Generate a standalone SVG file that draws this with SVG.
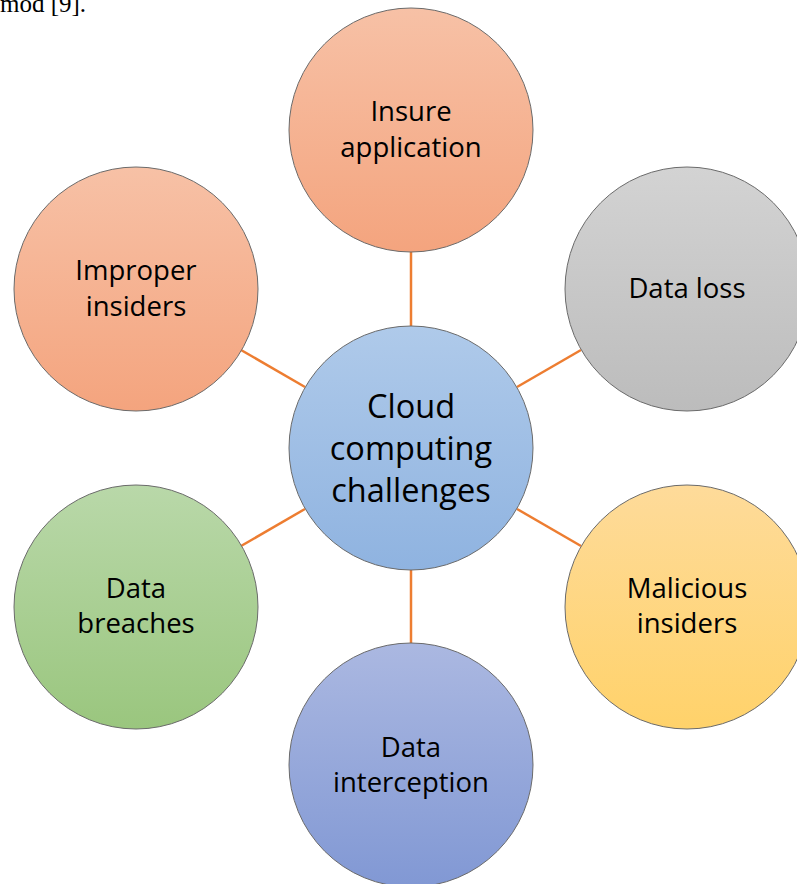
<svg xmlns="http://www.w3.org/2000/svg" width="797" height="884" viewBox="0 0 797 884">
  <defs>
    <linearGradient id="gSalmon" x1="0" y1="0" x2="0" y2="1">
      <stop offset="0" stop-color="#f7c1a6"/>
      <stop offset="1" stop-color="#f4a47e"/>
    </linearGradient>
    <linearGradient id="gGrey" x1="0" y1="0" x2="0" y2="1">
      <stop offset="0" stop-color="#d3d3d3"/>
      <stop offset="1" stop-color="#bcbcbc"/>
    </linearGradient>
    <linearGradient id="gBlue" x1="0" y1="0" x2="0" y2="1">
      <stop offset="0" stop-color="#afcaea"/>
      <stop offset="1" stop-color="#8fb3e0"/>
    </linearGradient>
    <linearGradient id="gYellow" x1="0" y1="0" x2="0" y2="1">
      <stop offset="0" stop-color="#fedb9a"/>
      <stop offset="1" stop-color="#ffd26a"/>
    </linearGradient>
    <linearGradient id="gGreen" x1="0" y1="0" x2="0" y2="1">
      <stop offset="0" stop-color="#b9d8a9"/>
      <stop offset="1" stop-color="#9ac67e"/>
    </linearGradient>
    <linearGradient id="gIndigo" x1="0" y1="0" x2="0" y2="1">
      <stop offset="0" stop-color="#abb8e1"/>
      <stop offset="1" stop-color="#8198d4"/>
    </linearGradient>
  </defs>
  <style>
    .node { stroke: #6b6b6b; stroke-width: 1; }
    .label { font-family: "Open Sans", "Liberation Sans", sans-serif; font-size: 27.5px; fill: #000; text-anchor: middle; }
    .hub { font-size: 32.5px; }
    .edge { stroke: #ed7d31; stroke-width: 2.5; fill: none; }
    .caption { font-family: "Liberation Serif", serif; font-size: 25px; fill: #000; }
  </style>

  <rect width="797" height="884" fill="#ffffff"/>
  <text class="caption" x="0" y="12">mod [9].</text>

  <!-- spokes from the hub to each surrounding circle -->
  <g id="connectors">
    <line class="edge" x1="411" y1="252" x2="411" y2="326"/>
    <line class="edge" x1="517" y1="387" x2="581" y2="350"/>
    <line class="edge" x1="517" y1="509" x2="581" y2="546"/>
    <line class="edge" x1="411" y1="570" x2="411" y2="643"/>
    <line class="edge" x1="305" y1="509" x2="241" y2="546"/>
    <line class="edge" x1="305" y1="387" x2="241" y2="350"/>
  </g>

  <g id="hub">
    <circle class="node" cx="411" cy="448" r="122" fill="url(#gBlue)"/>
    <text class="label hub" x="411" y="418">Cloud</text>
    <text class="label hub" x="411" y="460">computing</text>
    <text class="label hub" x="411" y="502">challenges</text>
  </g>

  <g id="insure-application">
    <circle class="node" cx="411" cy="130" r="122" fill="url(#gSalmon)"/>
    <text class="label" x="411" y="121">Insure</text>
    <text class="label" x="411" y="157">application</text>
  </g>

  <g id="data-loss">
    <circle class="node" cx="687" cy="289" r="122" fill="url(#gGrey)"/>
    <text class="label" x="687" y="298">Data loss</text>
  </g>

  <g id="malicious-insiders">
    <circle class="node" cx="687" cy="607" r="122" fill="url(#gYellow)"/>
    <text class="label" x="687" y="598">Malicious</text>
    <text class="label" x="687" y="633">insiders</text>
  </g>

  <g id="data-interception">
    <circle class="node" cx="411" cy="765" r="122" fill="url(#gIndigo)"/>
    <text class="label" x="411" y="757">Data</text>
    <text class="label" x="411" y="792">interception</text>
  </g>

  <g id="data-breaches">
    <circle class="node" cx="136" cy="607" r="122" fill="url(#gGreen)"/>
    <text class="label" x="136" y="598">Data</text>
    <text class="label" x="136" y="633">breaches</text>
  </g>

  <g id="improper-insiders">
    <circle class="node" cx="136" cy="289" r="122" fill="url(#gSalmon)"/>
    <text class="label" x="136" y="280">Improper</text>
    <text class="label" x="136" y="316">insiders</text>
  </g>
</svg>
